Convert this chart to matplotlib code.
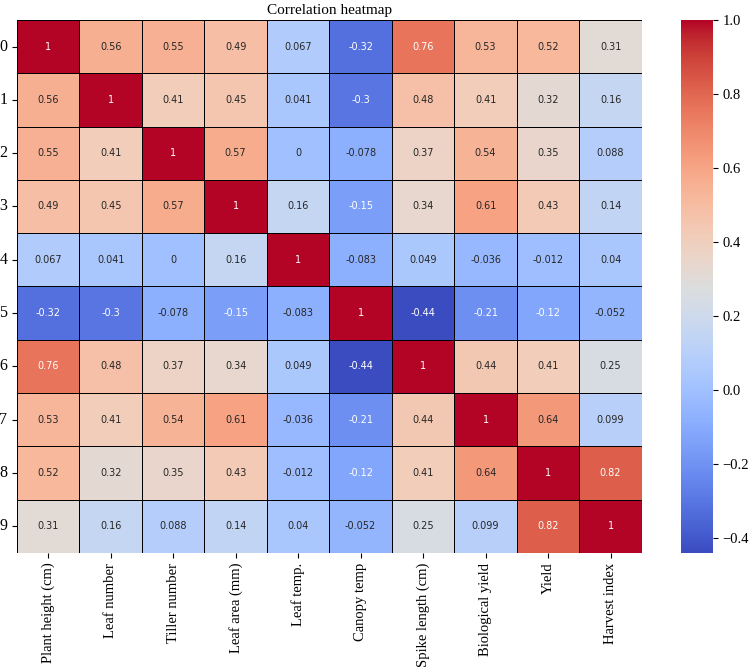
import numpy as np
import pandas as pd
import matplotlib
matplotlib.use('Agg')
import matplotlib.pyplot as plt
import seaborn as sns

labels = ['Plant height (cm)', 'Leaf number', 'Tiller number', 'Leaf area (mm)',
          'Leaf temp.', 'Canopy temp', 'Spike length (cm)', 'Biological yield',
          'Yield', 'Harvest index']

row0 = [1, 0.56, 0.55, 0.49, 0.067, -0.32, 0.76, 0.53, 0.52, 0.31]
row1 = [0.56, 1, 0.41, 0.45, 0.041, -0.3, 0.48, 0.41, 0.32, 0.16]
row2 = [0.55, 0.41, 1, 0.57, 0, -0.078, 0.37, 0.54, 0.35, 0.088]
row3 = [0.49, 0.45, 0.57, 1, 0.16, -0.15, 0.34, 0.61, 0.43, 0.14]
row4 = [0.067, 0.041, 0, 0.16, 1, -0.083, 0.049, -0.036, -0.012, 0.04]
row5 = [-0.32, -0.3, -0.078, -0.15, -0.083, 1, -0.44, -0.21, -0.12, -0.052]
row6 = [0.76, 0.48, 0.37, 0.34, 0.049, -0.44, 1, 0.44, 0.41, 0.25]
row7 = [0.53, 0.41, 0.54, 0.61, -0.036, -0.21, 0.44, 1, 0.64, 0.099]
row8 = [0.52, 0.32, 0.35, 0.43, -0.012, -0.12, 0.41, 0.64, 1, 0.82]
row9 = [0.31, 0.16, 0.088, 0.14, 0.04, -0.052, 0.25, 0.099, 0.82, 1]

corr = pd.DataFrame([row0, row1, row2, row3, row4, row5, row6, row7, row8, row9],
                    columns=labels)

fig = plt.figure(figsize=(7.51, 6.68), dpi=100)
ax = fig.add_axes([0.0226, 0.1722, 0.832, 0.798])
cax = fig.add_axes([0.9068, 0.1722, 0.0426, 0.798])

sns.heatmap(corr, cmap='coolwarm', annot=True, annot_kws={'fontsize': 7},
            linewidths=0.7, linecolor='black', ax=ax, cbar_ax=cax)

# white text on the darker cells
for t in ax.texts:
    v = float(t.get_text())
    t.set_color('white' if (v <= -0.1 or v >= 0.7) else '#262626')

serif = 'Liberation Serif'
ax.set_xticklabels(labels, rotation=90, fontsize=10.5, family=serif)
ax.set_yticklabels([str(i) for i in range(10)], rotation=0, fontsize=11.5, family=serif)
for t in cax.get_yticklabels():
    t.set_family(serif)
    t.set_fontsize(10.5)
ax.set_title('Correlation heatmap', fontsize=11, family=serif, pad=4)

fig.savefig('out.png', dpi=100)
